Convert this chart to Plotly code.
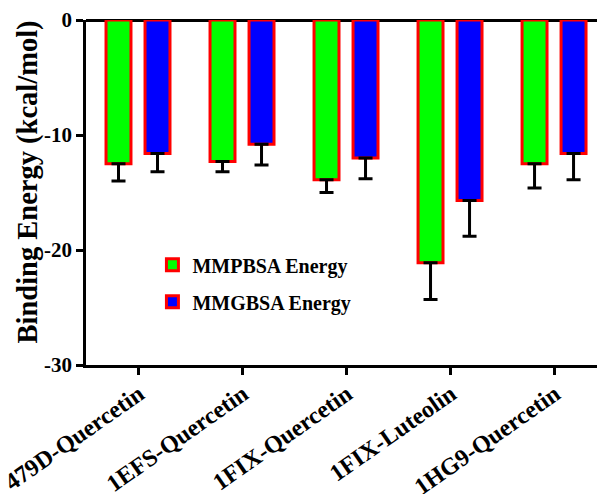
import plotly.graph_objects as go

categories = ["479D-Quercetin", "1EFS-Quercetin", "1FIX-Quercetin", "1FIX-Luteolin", "1HG9-Quercetin"]
mmpbsa = [-12.5, -12.3, -13.9, -21.1, -12.5]
mmpbsa_err = [1.5, 0.9, 1.1, 3.2, 2.1]
mmgbsa = [-11.6, -10.8, -12.0, -15.7, -11.6]
mmgbsa_err = [1.6, 1.8, 1.8, 3.1, 2.3]
y_ticks = [0, -10, -20, -30]
y_tick_labels = ["0", "-10", "-20", "-30"]
y_title = "Binding Energy (kcal/mol)"

FONT = "Liberation Serif, Times New Roman, serif"

def err(vals):
    return dict(type="data", symmetric=False, array=[0] * len(vals), arrayminus=vals,
                color="black", thickness=3, width=7)

fig = go.Figure()
fig.add_trace(go.Bar(
    x=categories, y=mmpbsa, name="MMPBSA Energy", legendgroup="a",
    marker=dict(color="#00FF00", line=dict(color="#FF0000", width=3)),
    error_y=err(mmpbsa_err),
))
fig.add_trace(go.Bar(
    x=categories, y=mmgbsa, name="MMGBSA Energy", legendgroup="b",
    marker=dict(color="#0000FF", line=dict(color="#FF0000", width=3)),
    error_y=err(mmgbsa_err),
))

fig.update_layout(
    width=597, height=494,
    margin=dict(l=86, r=0, t=20, b=129, autoexpand=False),
    plot_bgcolor="white", paper_bgcolor="white",
    barmode="group", bargap=0.25, bargroupgap=0.36,
    font=dict(family=FONT, color="black", weight="bold"),
    legend=dict(x=0.13, y=0.347, xanchor="left", yanchor="top",
                bgcolor="rgba(0,0,0,0)", tracegroupgap=8,
                font=dict(family=FONT, size=20, color="black", weight="bold")),
    showlegend=True,
    annotations=[dict(
        text=y_title, xref="paper", yref="paper", x=-0.1135, y=0.529,
        xanchor="center", yanchor="middle", textangle=-90, showarrow=False,
        font=dict(family=FONT, size=28.5, color="black", weight="bold"),
    )],
)
fig.update_xaxes(
    range=[-0.5, 4.413], showline=True, linecolor="black", linewidth=2.5,
    ticks="outside", ticklen=7, tickwidth=2.5, tickcolor="black",
    tickangle=-35, showgrid=False, automargin=False,
    ticklabelstandoff=-4, ticklabelshift=1,
    tickfont=dict(family=FONT, size=24, color="black", weight="bold"),
)
fig.update_yaxes(
    range=[-30, 0], tickvals=y_ticks, ticktext=y_tick_labels,
    showline=True, linecolor="black", linewidth=2.5,
    ticks="outside", ticklen=7, tickwidth=2.5, tickcolor="black",
    showgrid=False, zeroline=True, zerolinecolor="black", zerolinewidth=2.5,
    automargin=False,
    tickfont=dict(family=FONT, size=21, color="black", weight="bold"),
)

fig.write_html("out.html")
